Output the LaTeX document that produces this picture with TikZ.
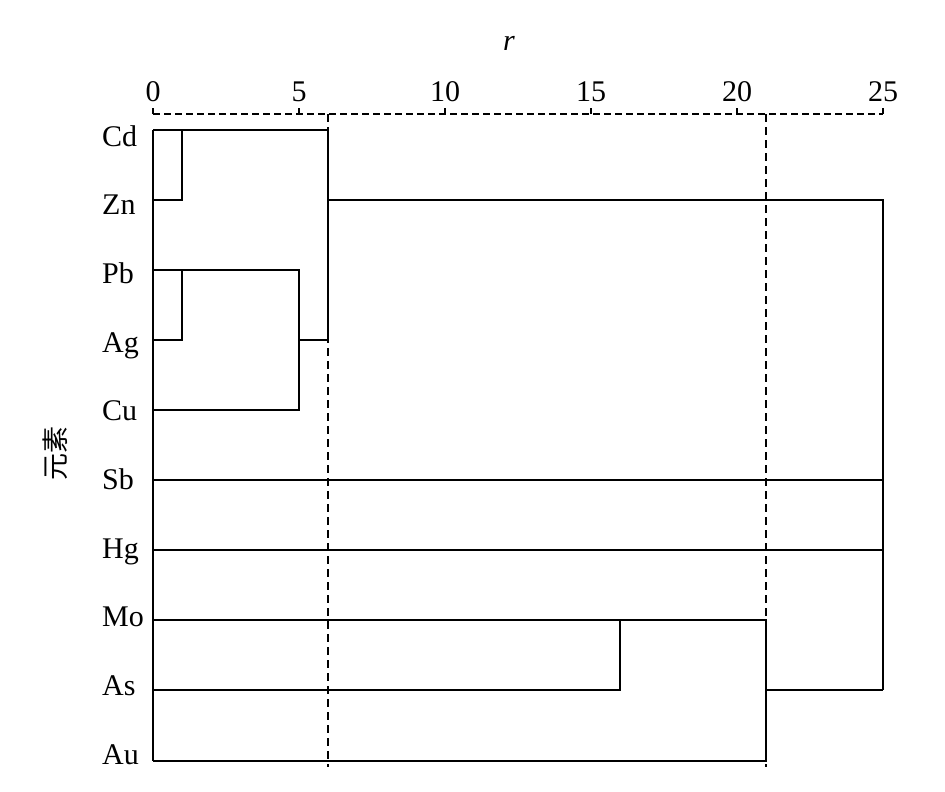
\documentclass[tikz,border=0pt]{standalone}
\usepackage{fontspec}
\setmainfont{Liberation Serif}
\newfontfamily\cjk{Noto Sans CJK SC}
\begin{document}
\begin{tikzpicture}[x=1pt,y=-1pt,
  link/.style={line width=1.6pt, line join=miter},
  guide/.style={line width=1.6pt, dash pattern=on 8pt off 5pt},
  axisline/.style={line width=1.6pt, dash pattern=on 7pt off 4pt},
  tickmark/.style={line width=1.6pt},
  lab/.style={font=\fontsize{30}{30}\selectfont, anchor=base west, inner sep=0pt},
  num/.style={font=\fontsize{30}{30}\selectfont, anchor=base, inner sep=0pt}]
\useasboundingbox (0,0) rectangle (945,792);
% leaves
\coordinate (Cd) at (153,130);
\coordinate (Zn) at (153,200);
\coordinate (Pb) at (153,270);
\coordinate (Ag) at (153,340);
\coordinate (Cu) at (153,410);
\coordinate (Sb) at (153,480);
\coordinate (Hg) at (153,550);
\coordinate (Mo) at (153,620);
\coordinate (As) at (153,690);
\coordinate (Au) at (153,761);
% labels
\foreach \n [count=\i from 0] in {Cd,Zn,Pb,Ag,Cu,Sb,Hg,Mo,As,Au}
  \node[lab] (l\n) at (102,{146+68.67*\i}) {\n};
% axis
\coordinate (a0) at (153,114);
\coordinate (a25) at (883,114);
\draw[axisline] (a0) -- (a25);
\foreach \v in {0,5,10,15,20,25}{
  \coordinate (t\v) at ({153+29.2*\v},114);
  \coordinate (tt\v) at ({153+29.2*\v},108);
  \draw[tickmark] (t\v) -- (tt\v);
  \node[num] (n\v) at ({153+29.2*\v},101) {\v};
}
\node[font=\fontsize{30}{30}\selectfont\itshape, inner sep=0pt] (rlab) at (509,43) {r};
\node[font=\cjk\fontsize{27}{27}\selectfont, rotate=90, inner sep=0pt] (ylab) at (55,453) {元素};
% guide lines
\coordinate (g6t) at (328,114);
\coordinate (g6b) at (328,767);
\coordinate (g21t) at (766,114);
\coordinate (g21b) at (766,767);
\draw[guide] (g6t) -- (g6b);
\draw[guide] (g21t) -- (g21b);
% merge points
\coordinate (c1t) at (182,130);
\coordinate (c1b) at (182,200);
\coordinate (c6t) at (328,130);
\coordinate (c6b) at (328,340);
\coordinate (z6) at (328,200);
\coordinate (p1t) at (182,270);
\coordinate (p1b) at (182,340);
\coordinate (p5t) at (299,270);
\coordinate (p5m) at (299,340);
\coordinate (p5b) at (299,410);
\coordinate (r25t) at (883,200);
\coordinate (r25b) at (883,690);
\coordinate (sb25) at (883,480);
\coordinate (hg25) at (883,550);
\coordinate (m21t) at (766,620);
\coordinate (m21m) at (766,690);
\coordinate (m21b) at (766,761);
\coordinate (s16t) at (620,620);
\coordinate (s16b) at (620,690);
% dendrogram
\draw[link] (Cd) -- (Au);
\draw[link] (Cd) -- (c6t) -- (c6b);
\draw[link] (c1t) -- (c1b) -- (Zn);
\draw[link] (z6) -- (r25t) -- (r25b);
\draw[link] (Pb) -- (p5t) -- (p5b) -- (Cu);
\draw[link] (p1t) -- (p1b) -- (Ag);
\draw[link] (p5m) -- (c6b);
\draw[link] (Sb) -- (sb25);
\draw[link] (Hg) -- (hg25);
\draw[link] (Mo) -- (m21t) -- (m21b) -- (Au);
\draw[link] (s16t) -- (s16b) -- (As);
\draw[link] (m21m) -- (r25b);
\end{tikzpicture}
\end{document}
